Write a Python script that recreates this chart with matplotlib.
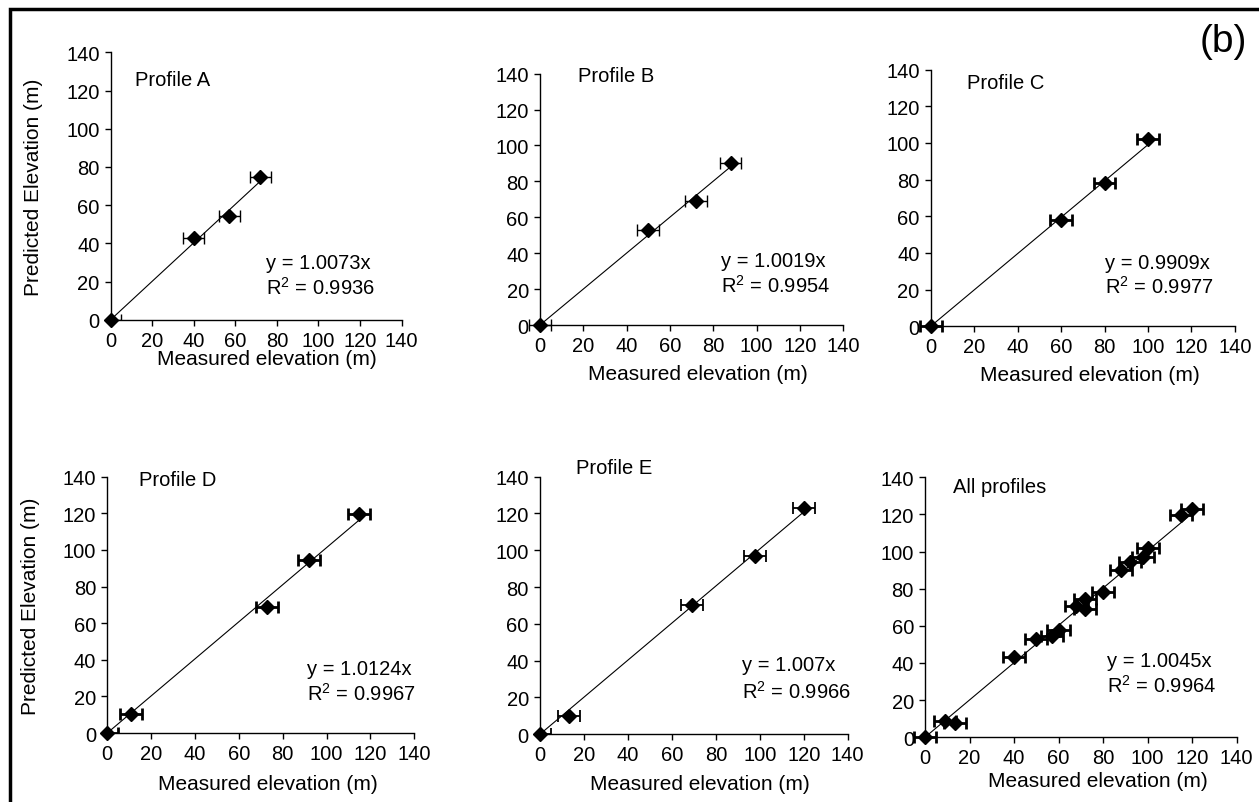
import matplotlib.pyplot as plt
import numpy as np
from matplotlib.patches import Rectangle

plt.rcParams['font.family'] = ['Liberation Sans', 'DejaVu Sans']
plt.rcParams['mathtext.fontset'] = 'custom'
plt.rcParams['mathtext.rm'] = 'Liberation Sans'
plt.rcParams['mathtext.it'] = 'Liberation Sans'

# data
names = ["Profile A", "Profile B", "Profile C", "Profile D", "Profile E", "All profiles"]

meas_a = [0, 40, 57, 72]
pred_a = [0, 43, 54.5, 74.5]
meas_b = [0, 50, 72, 88]
pred_b = [0, 53, 69, 90]
meas_c = [0, 60, 80, 100]
pred_c = [0, 58, 78, 102]
meas_d = [0, 11, 73, 92, 115]
pred_d = [0, 10.5, 69, 94.5, 119.5]
meas_e = [0, 13, 69, 98, 120]
pred_e = [0, 10, 70.5, 97, 123]
meas_all = [0, 9, 13.5, 40, 50, 57, 60, 68, 72, 72, 80, 88, 92, 98, 100, 115, 120]
pred_all = [0, 8.5, 7.5, 43, 53, 54.5, 58, 70.5, 74.5, 69, 78, 90, 94.5, 97, 102, 119.5, 123]

slopes = ["1.0073", "1.0019", "0.9909", "1.0124", "1.007", "1.0045"]
r2 = ["0.9936", "0.9954", "0.9977", "0.9967", "0.9966", "0.9964"]
x_err = 5

measured = [meas_a, meas_b, meas_c, meas_d, meas_e, meas_all]
predicted = [pred_a, pred_b, pred_c, pred_d, pred_e, pred_all]
ticks = [0, 20, 40, 60, 80, 100, 120, 140]

# layout (figure fractions) and per-panel styling
W, H = 1259, 803
rects = [
    [0.0879, 0.6006, 0.2311, 0.3330],
    [0.4289, 0.5940, 0.2409, 0.3130],
    [0.7392, 0.5924, 0.2417, 0.3196],
    [0.0852, 0.0859, 0.2438, 0.3192],
    [0.4289, 0.0844, 0.2444, 0.3207],
    [0.7347, 0.0806, 0.2476, 0.3238],
]
err_lw = [1.0, 1.0, 2.0, 2.0, 1.3, 2.0]
err_clip = [True, False, False, True, True, False]
name_pos = [(11.6, 126), (17.4, 139), (16.9, 133), (14.6, 138.5), (16.4, 145), (12.4, 135)]
eq_pos = [(74.7, 30, 17), (83.6, 36, 22.3), (80, 35, 22.1), (91.2, 35, 22.2),
          (91.7, 37.8, 23.4), (81.6, 41.3, 28.2)]
xlab_x = [0.536, 0.522, 0.522, 0.522, 0.521, 0.555]
xlab_off = [29, 39, 39, 41, 40, 34]

fig = plt.figure(figsize=(W / 100, H / 100), dpi=100)

for i in range(6):
    ax = fig.add_axes(rects[i])
    x = np.array(measured[i])
    y = np.array(predicted[i])

    fit_x = np.array([0, x.max()])
    ax.plot(fit_x, fit_x * float(slopes[i]), color='black', lw=0.8, zorder=2)

    eb = ax.errorbar(x, y, xerr=x_err, fmt='none', ecolor='black',
                     elinewidth=err_lw[i], capsize=4, capthick=err_lw[i], zorder=3)
    for art in list(eb.lines[1]) + list(eb.lines[2]):
        art.set_clip_on(err_clip[i])
    ax.plot(x, y, 'D', color='black', markersize=7, clip_on=False, zorder=4)

    ax.set_xlim(0, 140)
    ax.set_ylim(0, 140)
    ax.set_xticks(ticks)
    ax.set_yticks(ticks)
    ax.spines['top'].set_visible(False)
    ax.spines['right'].set_visible(False)
    ax.spines['left'].set_linewidth(1.0)
    ax.spines['bottom'].set_linewidth(1.0)
    ax.tick_params(direction='out', length=4, width=1, labelsize=14.5, pad=4)

    ax.text(name_pos[i][0], name_pos[i][1], names[i], fontsize=14.5, va='center', ha='left')
    ex, ey1, ey2 = eq_pos[i]
    ax.text(ex, ey1, f"y = {slopes[i]}x", fontsize=14.5, va='center', ha='left')
    ax.text(ex, ey2, f"R$^2$ = {r2[i]}", fontsize=14.5, va='center', ha='left')

    ax_h = rects[i][3] * H
    ax.set_xlabel("Measured elevation (m)", fontsize=15)
    ax.xaxis.set_label_coords(xlab_x[i], -xlab_off[i] / ax_h)
    if i in (0, 3):
        ax.set_ylabel("Predicted Elevation (m)", fontsize=15)
        ax.yaxis.set_label_coords(-0.233 if i == 0 else -0.219, 0.5)

fig.text(0.972, 0.948, "(b)", fontsize=28, ha='center', va='center')

# outer frame
fig.patches.append(Rectangle((10 / W, -0.05), 1.2, (H - 10) / H + 0.05, transform=fig.transFigure,
                             fill=False, edgecolor='black', linewidth=2.5))

fig.savefig("out.png", dpi=100)
